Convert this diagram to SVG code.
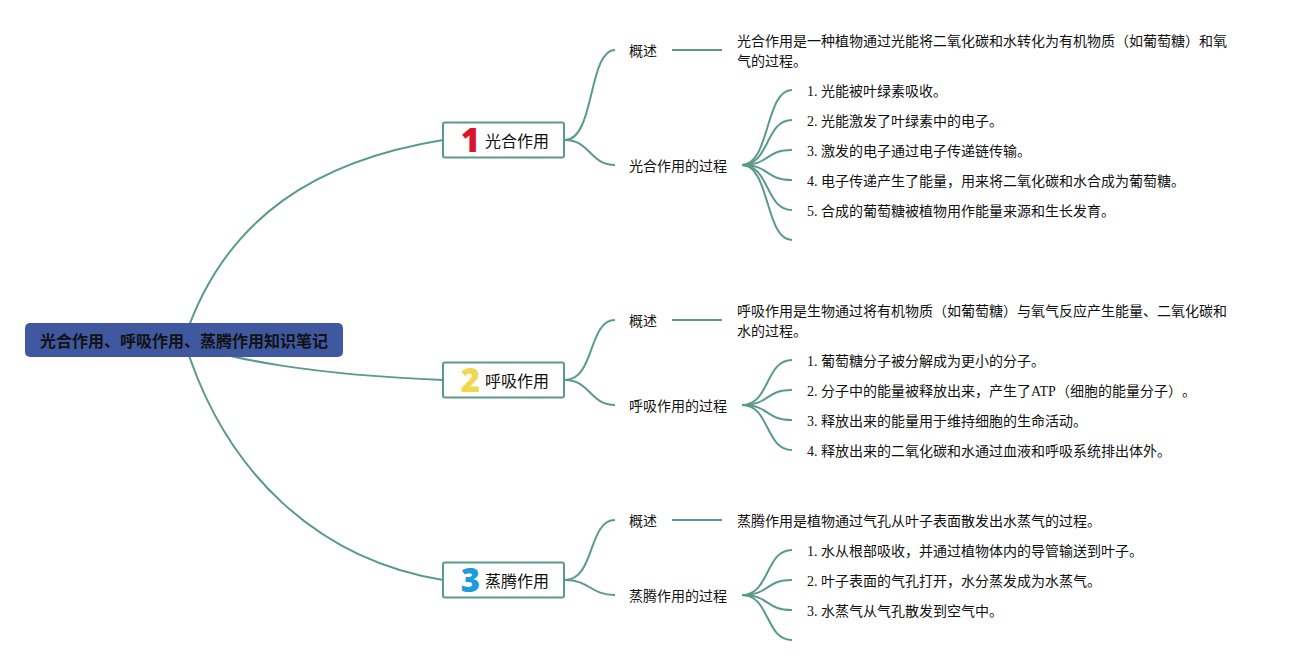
<svg xmlns="http://www.w3.org/2000/svg" width="1297" height="665" viewBox="0 0 1297 665">
<style>
text{font-family:"Liberation Serif","Noto Sans CJK SC",sans-serif;font-size:14px;fill:#111;text-spacing-trim:space-all}
.c{fill:none;stroke:#5b9a8b;stroke-width:2}
.t rect{fill:#fff;stroke:#5b9a8b;stroke-width:2}
.t text.l{font-size:16px;font-family:"Noto Sans CJK SC",sans-serif}
.t text.n{font-size:33px;font-weight:800;font-family:"Open Sans",sans-serif;text-anchor:middle}
</style>
<rect width="1297" height="665" fill="#fff"/>
<g id="connectors" class="c">
<path d="M184,340C225,215 320,160 443,140"/>
<path d="M184,340C222,360 320,375 443,380"/>
<path d="M184,340C225,475 320,560 443,580"/>
<path d="M565,140C595,140 588,50 615,50"/>
<path d="M565,140C590,140 590,165 615,165"/>
<path d="M672,50H722"/>
<path d="M742,165C770,165 765,90 792,90"/>
<path d="M742,165C770,165 765,120 792,120"/>
<path d="M742,165C770,165 765,150 792,150"/>
<path d="M742,165C770,165 765,180 792,180"/>
<path d="M742,165C770,165 765,210 792,210"/>
<path d="M742,165C770,165 765,240 792,240"/>
<path d="M565,380C595,380 588,320 615,320"/>
<path d="M565,380C590,380 590,405 615,405"/>
<path d="M672,320H722"/>
<path d="M742,405C770,405 765,360 792,360"/>
<path d="M742,405C770,405 765,390 792,390"/>
<path d="M742,405C770,405 765,420 792,420"/>
<path d="M742,405C770,405 765,450 792,450"/>
<path d="M565,580C595,580 588,520 615,520"/>
<path d="M565,580C590,580 590,595 615,595"/>
<path d="M672,520H722"/>
<path d="M742,595C770,595 765,550 792,550"/>
<path d="M742,595C770,595 765,580 792,580"/>
<path d="M742,595C770,595 765,610 792,610"/>
<path d="M742,595C770,595 765,640 792,640"/>
</g>
<g id="root"><rect x="25" y="323" width="318" height="34" rx="5" fill="#3f58a0"/><text x="40" y="347" style="font-size:16px;font-weight:700;font-family:'Noto Sans CJK SC',sans-serif">光合作用、呼吸作用、蒸腾作用知识笔记</text></g>
<g id="topic1" class="t"><rect x="443" y="122.5" width="121" height="35" rx="2"/><text class="n" x="470.5" y="152" style="fill:#d8152f">1</text><text class="l" x="485" y="147">光合作用</text></g>
<g id="topic2" class="t"><rect x="443" y="362.5" width="121" height="35" rx="2"/><text class="n" x="470.5" y="392" style="fill:#f2d84f">2</text><text class="l" x="485" y="387">呼吸作用</text></g>
<g id="topic3" class="t"><rect x="443" y="562.5" width="121" height="35" rx="2"/><text class="n" x="470.5" y="592" style="fill:#1f9bdc">3</text><text class="l" x="485" y="587">蒸腾作用</text></g>
<g id="n1a"><text x="629" y="56">概述</text></g>
<g id="n1a1"><text x="737" y="46">光合作用是一种植物通过光能将二氧化碳和水转化为有机物质（如葡萄糖）和氧</text><text x="737" y="66">气的过程。</text></g>
<g id="n1b"><text x="629" y="171">光合作用的过程</text></g>
<g id="n1b1"><text x="807" y="96">1. 光能被叶绿素吸收。</text></g>
<g id="n1b2"><text x="807" y="126">2. 光能激发了叶绿素中的电子。</text></g>
<g id="n1b3"><text x="807" y="156">3. 激发的电子通过电子传递链传输。</text></g>
<g id="n1b4"><text x="807" y="186">4. 电子传递产生了能量，用来将二氧化碳和水合成为葡萄糖。</text></g>
<g id="n1b5"><text x="807" y="216">5. 合成的葡萄糖被植物用作能量来源和生长发育。</text></g>
<g id="n2a"><text x="629" y="326">概述</text></g>
<g id="n2a1"><text x="737" y="316">呼吸作用是生物通过将有机物质（如葡萄糖）与氧气反应产生能量、二氧化碳和</text><text x="737" y="336">水的过程。</text></g>
<g id="n2b"><text x="629" y="411">呼吸作用的过程</text></g>
<g id="n2b1"><text x="807" y="366">1. 葡萄糖分子被分解成为更小的分子。</text></g>
<g id="n2b2"><text x="807" y="396">2. 分子中的能量被释放出来，产生了ATP（细胞的能量分子）。</text></g>
<g id="n2b3"><text x="807" y="426">3. 释放出来的能量用于维持细胞的生命活动。</text></g>
<g id="n2b4"><text x="807" y="456">4. 释放出来的二氧化碳和水通过血液和呼吸系统排出体外。</text></g>
<g id="n3a"><text x="629" y="526">概述</text></g>
<g id="n3a1"><text x="737" y="526">蒸腾作用是植物通过气孔从叶子表面散发出水蒸气的过程。</text></g>
<g id="n3b"><text x="629" y="601">蒸腾作用的过程</text></g>
<g id="n3b1"><text x="807" y="556">1. 水从根部吸收，并通过植物体内的导管输送到叶子。</text></g>
<g id="n3b2"><text x="807" y="586">2. 叶子表面的气孔打开，水分蒸发成为水蒸气。</text></g>
<g id="n3b3"><text x="807" y="616">3. 水蒸气从气孔散发到空气中。</text></g>
</svg>
